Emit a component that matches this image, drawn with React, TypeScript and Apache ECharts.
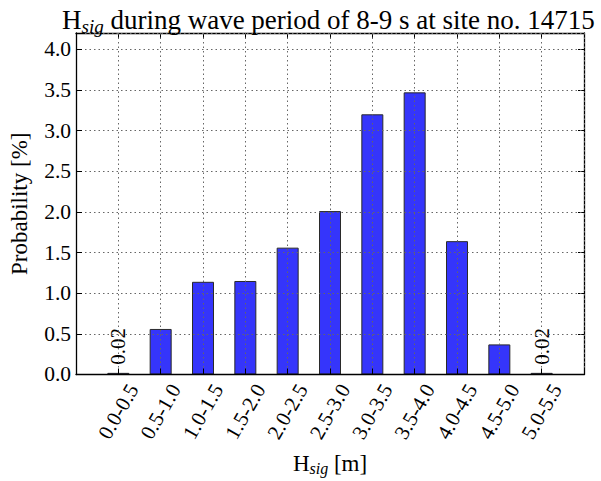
import React, { useEffect, useRef } from "react";
import * as echarts from "echarts";

const categories = ["0.0-0.5", "0.5-1.0", "1.0-1.5", "1.5-2.0", "2.0-2.5", "2.5-3.0", "3.0-3.5", "3.5-4.0", "4.0-4.5", "4.5-5.0", "5.0-5.5"];
const probability = [0.02, 0.56, 1.14, 1.15, 1.56, 2.01, 3.2, 3.47, 1.64, 0.37, 0.02];
const labeledBars = [0, 10];

const FONT = "'Liberation Serif', 'Times New Roman', serif";

export default function App() {
  const ref = useRef<HTMLDivElement>(null);
  useEffect(() => {
    if (!ref.current) return;
    const chart = echarts.init(ref.current, undefined, { renderer: "svg" });
    const tickCommon = { show: true, inside: true, length: 6, lineStyle: { color: "#000", width: 1 } };
    const lineCommon = { show: true, onZero: false, lineStyle: { color: "#000", width: 1.3 } };
    const gridLine = { show: true, lineStyle: { color: "#666", type: [1.5, 3] as any, width: 1 } };
    const txt = (size: number, extra: any = {}) => ({ fontFamily: FONT, fontSize: size, fontWeight: "normal", color: "#000", ...extra });
    chart.setOption({
      animation: false,
      backgroundColor: "#fff",
      title: {
        text: "{h|H}{s|sig}{t| during wave period of 8-9 s at site no. 14715}",
        left: 57,
        top: 0,
        textStyle: {
          fontFamily: FONT,
          fontSize: 27,
          fontWeight: "normal",
          rich: {
            h: txt(27, { lineHeight: 30 }),
            s: txt(19, { fontStyle: "italic", padding: [13, 0, 0, 0], lineHeight: 30 }),
            t: txt(27, { lineHeight: 30 }),
          },
        },
      },
      grid: { left: 68, right: 17, top: 33, bottom: 104 },
      xAxis: [
        {
          type: "value",
          min: -1,
          max: 11,
          interval: 1,
          z: 5,
          name: "{h|H}{s|sig}{t| [m]}",
          nameLocation: "middle",
          nameGap: 71,
          nameTextStyle: {
            fontFamily: FONT,
            rich: {
              h: txt(23, { lineHeight: 26 }),
              s: txt(16, { fontStyle: "italic", padding: [10, 0, 0, 0], lineHeight: 26 }),
              t: txt(23, { lineHeight: 26 }),
            },
          },
          axisLine: lineCommon,
          axisTick: tickCommon,
          splitLine: gridLine,
          axisLabel: {
            rotate: 60,
            align: "center",
            verticalAlign: "middle",
            margin: 37,
            ...txt(21),
            rich: { a: txt(21) },
            formatter: (v: number) => (v >= 0 && v < categories.length ? "{a|" + categories[Math.round(v)] + "}" : ""),
          },
        },
        {
          type: "value",
          position: "top",
          min: -1,
          max: 11,
          interval: 1,
          axisLine: lineCommon,
          axisTick: tickCommon,
          axisLabel: { show: false },
          splitLine: { show: false },
        },
      ],
      yAxis: [
        {
          type: "value",
          min: 0,
          max: 4.2,
          interval: 0.5,
          z: 5,
          name: "{a|Probability [%]}",
          nameLocation: "middle",
          nameGap: 45,
          nameTextStyle: { ...txt(23), rich: { a: txt(23) } },
          axisLine: lineCommon,
          axisTick: tickCommon,
          splitLine: gridLine,
          axisLabel: {
            margin: 5,
            ...txt(21),
            rich: { a: txt(21.5) },
            formatter: (v: number) => (v > 4.05 ? "" : "{a|" + v.toFixed(1) + "}"),
          },
        },
        {
          type: "value",
          position: "right",
          min: 0,
          max: 4.2,
          interval: 0.5,
          axisLine: lineCommon,
          axisTick: tickCommon,
          axisLabel: { show: false },
          splitLine: { show: false },
        },
      ],
      series: [
        {
          type: "bar",
          xAxisIndex: 0,
          yAxisIndex: 0,
          barWidth: 22,
          itemStyle: { color: "#3535fb", borderColor: "#2a2a2a", borderWidth: 1 },
          data: probability.map((v, i) => ({
            value: [i, v],
            label: labeledBars.includes(i)
              ? {
                  show: true,
                  position: "top",
                  rotate: 90,
                  align: "left",
                  verticalAlign: "middle",
                  distance: 8,
                  ...txt(21),
                  rich: { a: txt(21) },
                  formatter: () => "{a|" + v.toFixed(2) + "}",
                }
              : { show: false },
          })),
        },
      ],
    });
    return () => chart.dispose();
  }, []);
  return <div ref={ref} style={{ width: 601, height: 481, position: "absolute", left: 0, top: 0 }} />;
}
